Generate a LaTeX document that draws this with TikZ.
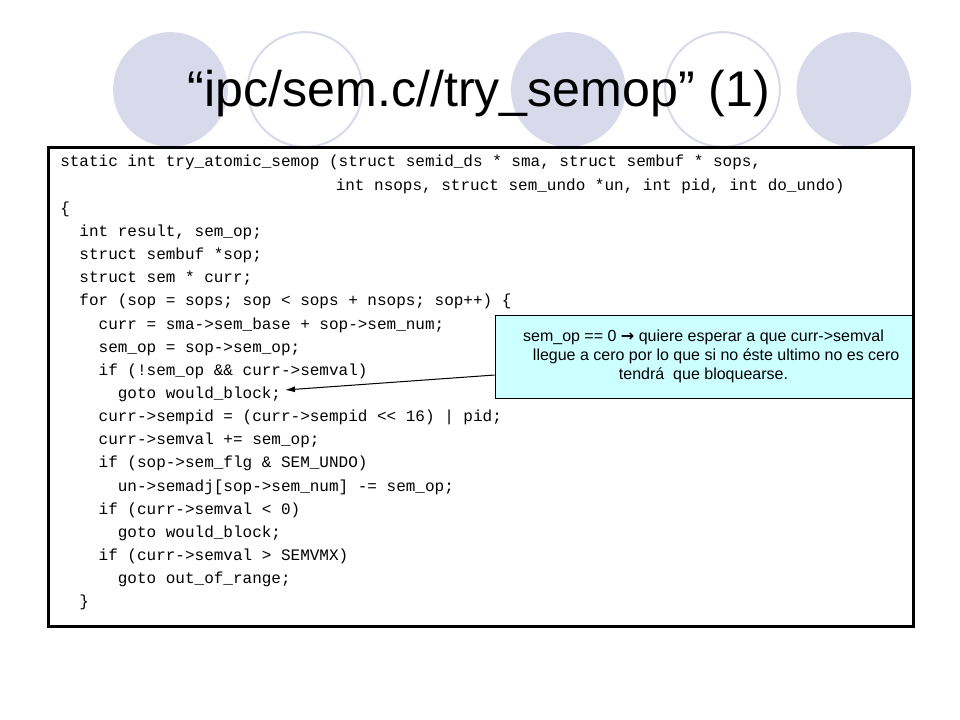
\documentclass[tikz,border=0pt]{standalone}
\usepackage{fontspec}
\setmainfont{Liberation Sans}
\setmonofont{Liberation Mono}
\newfontfamily\symfont{DejaVu Sans}
\usetikzlibrary{arrows.meta}
\definecolor{ballcol}{RGB}{217,217,236}
\definecolor{notecol}{RGB}{204,255,255}
\tikzset{
  ball/.style={fill=ballcol},
  ring/.style={draw=ballcol,line width=1.5pt},
  codeline/.style={anchor=base west,inner sep=0pt,font=\ttfamily\fontsize{12}{14}\selectfont}
}

\begin{document}
\begin{tikzpicture}[x=0.75pt,y=-0.75pt]
\useasboundingbox[fill=white] (0,0) rectangle (960,720);
% circles behind the title
\fill[ball] (170.5,89.5) circle (43pt);
\draw[ring] (305,89.5) circle (43pt);
\fill[ball] (568.3,89.5) circle (43pt);
\draw[ring] (722.5,89.5) circle (43pt);
\fill[ball] (853.8,89.5) circle (43pt);
\node[anchor=base,inner sep=0pt,font=\fontsize{37.6}{40}\selectfont] (title) at (479,107) {“ipc/sem.c//try\_semop” (1)};
% code
\draw[line width=2.25pt] (48,148) rectangle (913,626.5);
\foreach \ind/\txt [count=\i] in {
  0/{static int try\_atomic\_semop (struct semid\_ds * sma, struct sembuf * sops,},
  28.7/{int nsops, struct sem\_undo *un, int pid, int do\_undo)},
  0/{\{},
  2/{int result, sem\_op;},
  2/{struct sembuf *sop;},
  2/{struct sem * curr;},
  2/{for (sop = sops; sop < sops + nsops; sop++) \{},
  4/{curr = sma->sem\_base + sop->sem\_num;},
  4/{sem\_op = sop->sem\_op;},
  4/{if (!sem\_op \&\& curr->semval)},
  6/{goto would\_block;},
  4/{curr->sempid = (curr->sempid << 16) | pid;},
  4/{curr->semval += sem\_op;},
  4/{if (sop->sem\_flg \& SEM\_UNDO)},
  6/{un->semadj[sop->sem\_num] -= sem\_op;},
  4/{if (curr->semval < 0)},
  6/{goto would\_block;},
  4/{if (curr->semval > SEMVMX)},
  6/{goto out\_of\_range;},
  2/{\}}}
  \node[codeline] (l\i) at (60+9.6*\ind, 143.85+23.15*\i) {\txt};
% note
\node[draw,fill=notecol,line width=0.75pt,minimum width=312.75pt,minimum height=62.25pt,inner sep=0pt,align=center,font=\fontsize{12}{14.25}\selectfont] (note) at (703.5,356.5) {sem\_op == 0 {\symfont\bfseries →} quiere esperar a que curr->semval\\\hspace*{19pt}llegue a cero por lo que si no éste ultimo no es cero\\tendrá\ \ que bloquearse.};
\coordinate (tip) at (285,390);
\draw[-{Latex[length=7.5pt,width=4.5pt]},line width=0.75pt] ([yshift=-13.9pt]note.west) -- (tip);
\end{tikzpicture}
\end{document}
